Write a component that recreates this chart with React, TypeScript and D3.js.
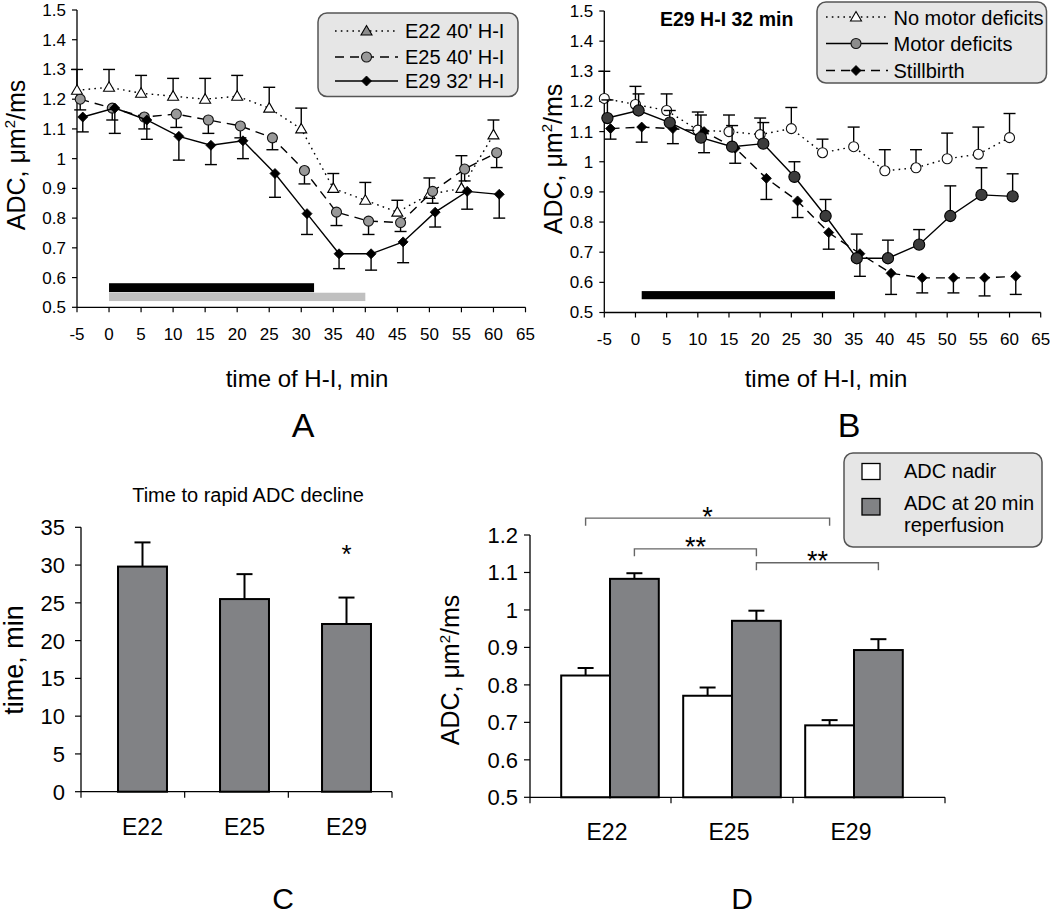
import React from 'react';
import * as d3 from 'd3';

// ---------- DATA ----------
const timePoints = [-5, 0, 5, 10, 15, 20, 25, 30, 35, 40, 45, 50, 55, 60];
const xTicks = [-5, 0, 5, 10, 15, 20, 25, 30, 35, 40, 45, 50, 55, 60, 65];
const adcTicks = [0.5, 0.6, 0.7, 0.8, 0.9, 1.0, 1.1, 1.2, 1.3, 1.4, 1.5];

// Panel A
const e22Adc = [1.23, 1.24, 1.22, 1.21, 1.2, 1.21, 1.17, 1.1, 0.9, 0.86, 0.82, 0.88, 0.9, 1.08];
const e22Err = [0.07, 0.06, 0.06, 0.06, 0.07, 0.07, 0.07, 0.07, 0.05, 0.06, 0.04, 0.055, 0.11, 0.05];
const e25Adc = [1.2, 1.17, 1.14, 1.15, 1.13, 1.11, 1.07, 0.96, 0.82, 0.79, 0.785, 0.89, 0.965, 1.02];
const e25Err = [0.036, 0.04, 0.04, 0.045, 0.045, 0.04, 0.04, 0.045, 0.045, 0.045, 0.03, 0.04, 0.04, 0.05];
const e29Adc = [1.14, 1.17, 1.13, 1.075, 1.045, 1.06, 0.95, 0.815, 0.68, 0.68, 0.72, 0.82, 0.89, 0.88];
const e29Err = [0.05, 0.085, 0.065, 0.08, 0.065, 0.06, 0.08, 0.07, 0.05, 0.055, 0.07, 0.05, 0.06, 0.08];
const legendA = ["E22 40' H-I", "E25 40' H-I", "E29 32' H-I"];
const hiStartA = [0, 0];
const hiEndA = [32, 40];

// Panel B
const noMotorAdc = [1.21, 1.19, 1.17, 1.105, 1.1, 1.09, 1.11, 1.03, 1.05, 0.97, 0.98, 1.01, 1.025, 1.08];
const noMotorErr = [0.09, 0.06, 0.055, 0.06, 0.055, 0.055, 0.07, 0.045, 0.065, 0.07, 0.06, 0.085, 0.09, 0.08];
const motorAdc = [1.145, 1.17, 1.13, 1.08, 1.05, 1.06, 0.95, 0.82, 0.68, 0.68, 0.725, 0.82, 0.89, 0.885];
const motorErr = [0.06, 0.055, 0.04, 0.075, 0.07, 0.07, 0.05, 0.055, 0.08, 0.06, 0.05, 0.1, 0.09, 0.075];
const stillAdc = [1.11, 1.115, 1.11, 1.1, 1.045, 0.945, 0.87, 0.765, 0.695, 0.63, 0.615, 0.615, 0.615, 0.62];
const stillErr = [0.035, 0.05, 0.05, 0.07, 0.05, 0.07, 0.055, 0.055, 0.075, 0.07, 0.05, 0.05, 0.06, 0.06];
const legendB = ['No motor deficits', 'Motor deficits', 'Stillbirth'];
const titleB = 'E29 H-I 32 min';
const hiStartB = [1];
const hiEndB = [32];

// Panel C
const ages = ['E22', 'E25', 'E29'];
const declineTime = [29.8, 25.5, 22.2];
const declineErr = [3.2, 3.3, 3.5];
const timeTicks = [0, 5, 10, 15, 20, 25, 30, 35];

// Panel D
const nadirAdc = [0.825, 0.771, 0.692];
const nadirErr = [0.02, 0.022, 0.014];
const reperfAdc = [1.083, 0.971, 0.893];
const reperfErr = [0.015, 0.027, 0.029];
const dTicks = [0.5, 0.6, 0.7, 0.8, 0.9, 1.0, 1.1, 1.2];
const legendD = ['ADC nadir', 'ADC at 20 min', 'reperfusion'];
const sigFrom = [['E22', 'nadir'], ['E22', 'reperf'], ['E25', 'reperf']];
const sigTo = [['E29', 'nadir'], ['E25', 'reperf'], ['E29', 'reperf']];
const sigLevel = [1.245, 1.163, 1.126];
const sigLabel = ['*', '**', '**'];

// ---------- STYLE ----------
const FONT = '"Liberation Sans", Arial, Helvetica, sans-serif';
const BAR_GRAY = '#818285';
const fmt = (v: number) => String(Math.round(v * 10) / 10);

function Marker({ type, cx, cy, fill }: { type: string; cx: number; cy: number; fill: string }) {
  if (type === 'tri') {
    return <path d={`M${cx},${cy - 5.5}L${cx + 5.5},${cy + 4}L${cx - 5.5},${cy + 4}Z`} fill={fill} stroke="#000" strokeWidth={1.1} />;
  }
  if (type === 'circ') {
    return <circle cx={cx} cy={cy} r={5} fill={fill} stroke="#111" strokeWidth={1.1} />;
  }
  if (type === 'bigcirc') {
    return <circle cx={cx} cy={cy} r={5.6} fill={fill} stroke="#000" strokeWidth={1.1} />;
  }
  return <path d={`M${cx},${cy - 5}L${cx + 5},${cy}L${cx},${cy + 5}L${cx - 5},${cy}Z`} fill={fill} stroke="#000" strokeWidth={0.8} />;
}

function Series({ xs, ys, errs, dir, x, y, dash, marker, fill }: any) {
  const line = d3
    .line<number>()
    .x((_, i) => x(xs[i]))
    .y((d) => y(d));
  return (
    <g>
      {ys.map((v: number, i: number) => {
        const px = x(xs[i]);
        const e = y(v + dir * errs[i]);
        return (
          <g key={'e' + i} stroke="#000" strokeWidth={1.4}>
            <line x1={px} x2={px} y1={y(v)} y2={e} />
            <line x1={px - 6} x2={px + 6} y1={e} y2={e} />
          </g>
        );
      })}
      <path d={line(ys) || ''} fill="none" stroke="#000" strokeWidth={1.4} strokeDasharray={dash} />
      {ys.map((v: number, i: number) => (
        <Marker key={'m' + i} type={marker} cx={x(xs[i])} cy={y(v)} fill={fill} />
      ))}
    </g>
  );
}

function TimeAxes({ x, y, tickSize }: { x: any; y: any; tickSize: number }) {
  const [x0, x1] = x.range();
  const [y0, y1] = y.range();
  return (
    <g fontFamily={FONT} fontSize={tickSize} fill="#000">
      <line x1={x0} x2={x0} y1={y0} y2={y1} stroke="#000" strokeWidth={1.3} />
      <line x1={x0} x2={x1} y1={y0} y2={y0} stroke="#000" strokeWidth={1.3} />
      {adcTicks.map((t) => (
        <g key={'y' + t}>
          <line x1={x0 - 5} x2={x0} y1={y(t)} y2={y(t)} stroke="#000" strokeWidth={1.2} />
          <text x={x0 - 11} y={y(t)} dy="0.35em" textAnchor="end">
            {fmt(t)}
          </text>
        </g>
      ))}
      {xTicks.map((t) => (
        <g key={'x' + t}>
          <line x1={x(t)} x2={x(t)} y1={y0} y2={y0 + 5} stroke="#000" strokeWidth={1.2} />
          <text x={x(t)} y={y0 + 32.5} textAnchor="middle">
            {String(t)}
          </text>
        </g>
      ))}
    </g>
  );
}

function AdcLabel({ x, y, size }: { x: number; y: number; size: number }) {
  return (
    <text transform={`translate(${x},${y}) rotate(-90)`} textAnchor="middle" fontFamily={FONT} fontSize={size}>
      <tspan>ADC, μm</tspan>
      <tspan fontSize={size * 0.6} dy={-size * 0.38}>
        2
      </tspan>
      <tspan dy={size * 0.38}>/ms</tspan>
    </text>
  );
}

function LegendBox({ x0, y0, x1, y1 }: { x0: number; y0: number; x1: number; y1: number }) {
  return <rect x={x0} y={y0} width={x1 - x0} height={y1 - y0} rx={9} ry={9} fill="#e6e6e6" stroke="#555" strokeWidth={1.5} />;
}

function PanelA() {
  const x = d3.scaleLinear().domain([-5, 65]).range([77, 525.5]);
  const y = d3.scaleLinear().domain([0.5, 1.5]).range([307.3, 10]);
  const xs22 = timePoints;
  const xs25 = timePoints.map((t) => t + 0.5);
  const xs29 = timePoints.map((t) => t + 0.9);
  const barLo = [0.551, 0.521];
  const barHi = [0.581, 0.549];
  const barCol = ['#000', '#c0c0c0'];
  const legY = [31, 57, 81];
  const styles = [
    { dash: '1.6,4.2', marker: 'tri', fill: '#8c8c8c' },
    { dash: '9,6', marker: 'circ', fill: '#999' },
    { dash: undefined, marker: 'diam', fill: '#000' },
  ];
  return (
    <g>
      {hiStartA.map((s, i) => (
        <rect key={i} x={x(s)} width={x(hiEndA[i]) - x(s)} y={y(barHi[i])} height={y(barLo[i]) - y(barHi[i])} fill={barCol[i]} />
      ))}
      <TimeAxes x={x} y={y} tickSize={17} />
      <Series xs={xs22} ys={e22Adc} errs={e22Err} dir={1} x={x} y={y} dash="1.6,4.2" marker="tri" fill="#fff" />
      <Series xs={xs25} ys={e25Adc} errs={e25Err} dir={-1} x={x} y={y} dash="9,6" marker="circ" fill="#999" />
      <Series xs={xs29} ys={e29Adc} errs={e29Err} dir={-1} x={x} y={y} marker="diam" fill="#000" />
      <LegendBox x0={318} y0={13} x1={518} y1={96.5} />
      {legendA.map((l, i) => (
        <g key={l}>
          <line x1={335} x2={398} y1={legY[i]} y2={legY[i]} stroke="#000" strokeWidth={1.4} strokeDasharray={styles[i].dash} />
          <Marker type={styles[i].marker} cx={366.5} cy={legY[i]} fill={styles[i].fill} />
          <text x={405} y={legY[i] + 6.5} fontFamily={FONT} fontSize={20}>
            {l}
          </text>
        </g>
      ))}
      <AdcLabel x={24.5} y={155} size={25} />
      <text x={307} y={387} textAnchor="middle" fontFamily={FONT} fontSize={24}>
        time of H-I, min
      </text>
      <text x={303} y={437} textAnchor="middle" fontFamily={FONT} fontSize={34}>
        A
      </text>
    </g>
  );
}

function PanelB() {
  const x = d3.scaleLinear().domain([-5, 65]).range([604.3, 1040.7]);
  const y = d3.scaleLinear().domain([0.5, 1.5]).range([312.5, 11]);
  const xsN = timePoints;
  const xsM = timePoints.map((t) => t + 0.5);
  const xsS = timePoints.map((t) => t + 1);
  const legY = [17, 43.5, 70.5];
  const styles = [
    { dash: '1.6,4.2', marker: 'tri', fill: '#fff' },
    { dash: undefined, marker: 'circ', fill: '#8c8c8c' },
    { dash: '9,6', marker: 'diam', fill: '#000' },
  ];
  return (
    <g>
      {hiStartB.map((s, i) => (
        <rect key={i} x={x(s)} width={x(hiEndB[i]) - x(s)} y={y(0.571)} height={y(0.544) - y(0.571)} fill="#000" />
      ))}
      <TimeAxes x={x} y={y} tickSize={17} />
      <Series xs={xsN} ys={noMotorAdc} errs={noMotorErr} dir={1} x={x} y={y} dash="1.6,4.2" marker="circ" fill="#fff" />
      <Series xs={xsS} ys={stillAdc} errs={stillErr} dir={-1} x={x} y={y} dash="9,6" marker="diam" fill="#000" />
      <Series xs={xsM} ys={motorAdc} errs={motorErr} dir={1} x={x} y={y} marker="bigcirc" fill="#3c3c3c" />
      <text x={660} y={26} fontFamily={FONT} fontSize={19.5} fontWeight="bold">
        {titleB}
      </text>
      <LegendBox x0={817} y0={2} x1={1046.5} y1={83} />
      {legendB.map((l, i) => (
        <g key={l}>
          <line x1={826} x2={888} y1={legY[i]} y2={legY[i]} stroke="#000" strokeWidth={1.4} strokeDasharray={styles[i].dash} />
          <Marker type={styles[i].marker} cx={856} cy={legY[i]} fill={styles[i].fill} />
          <text x={893.5} y={legY[i] + 7.5} fontFamily={FONT} fontSize={20}>
            {l}
          </text>
        </g>
      ))}
      <AdcLabel x={561.5} y={159} size={25} />
      <text x={826} y={387} textAnchor="middle" fontFamily={FONT} fontSize={24}>
        time of H-I, min
      </text>
      <text x={849} y={437} textAnchor="middle" fontFamily={FONT} fontSize={34}>
        B
      </text>
    </g>
  );
}

function PanelC() {
  const y = d3.scaleLinear().domain([0, 35]).range([791.7, 527.3]);
  const x = d3.scaleBand<string>().domain(ages).range([97, 392]).paddingInner(0.52).paddingOuter(0.206);
  const ax0 = 81;
  const ax1 = 392;
  const bw = x.bandwidth();
  return (
    <g fontFamily={FONT}>
      <text x={248} y={501.5} textAnchor="middle" fontSize={20}>
        Time to rapid ADC decline
      </text>
      {ages.map((a, i) => {
        const cx = (x(a) as number) + bw / 2;
        const top = y(declineErr[i] + declineTime[i]);
        return (
          <g key={a}>
            <rect x={x(a)} y={y(declineTime[i])} width={bw} height={y(0) - y(declineTime[i])} fill={BAR_GRAY} stroke="#000" strokeWidth={2} />
            <line x1={cx} x2={cx} y1={y(declineTime[i])} y2={top} stroke="#000" strokeWidth={2} />
            <line x1={cx - 8} x2={cx + 8} y1={top} y2={top} stroke="#000" strokeWidth={2} />
            <text x={cx} y={835} textAnchor="middle" fontSize={23}>
              {a}
            </text>
          </g>
        );
      })}
      <line x1={ax0} x2={ax0} y1={y(0)} y2={y(35)} stroke="#000" strokeWidth={1.3} />
      <line x1={ax0} x2={ax1} y1={y(0)} y2={y(0)} stroke="#000" strokeWidth={1.3} />
      {timeTicks.map((t) => (
        <g key={t}>
          <line x1={ax0 - 6} x2={ax0} y1={y(t)} y2={y(t)} stroke="#000" strokeWidth={1.2} />
          <text x={65} y={y(t)} dy="0.36em" textAnchor="end" fontSize={22}>
            {String(t)}
          </text>
        </g>
      ))}
      {[0, 1, 2, 3].map((k) => {
        const tx = ax0 + (k * (ax1 - ax0)) / ages.length;
        return <line key={k} x1={tx} x2={tx} y1={y(0)} y2={y(0) + 6} stroke="#000" strokeWidth={1.2} />;
      })}
      <text x={(x('E29') as number) + bw / 2} y={y(30.3)} textAnchor="middle" fontSize={26}>
        *
      </text>
      <text transform={`translate(22.5,660) rotate(-90)`} textAnchor="middle" fontSize={27}>
        time, min
      </text>
      <text x={283} y={909} textAnchor="middle" fontSize={30}>
        C
      </text>
    </g>
  );
}

function PanelD() {
  const y = d3.scaleLinear().domain([0.5, 1.2]).range([797.3, 535]);
  const x = d3.scaleBand<string>().domain(ages).range([549, 915]).paddingInner(0.2).paddingOuter(0.1);
  const sub = d3.scaleBand<string>().domain(['nadir', 'reperf']).range([0, x.bandwidth()]);
  const sw = sub.bandwidth();
  const ax0 = 530;
  const ax1 = 945;
  const step = x.step();
  const cen = (p: string[]) => (x(p[0]) as number) + (sub(p[1]) as number) + sw / 2;
  const series = [
    { key: 'nadir', vals: nadirAdc, errs: nadirErr, fill: '#fff' },
    { key: 'reperf', vals: reperfAdc, errs: reperfErr, fill: BAR_GRAY },
  ];
  const tickXs = [ax0, (x('E25') as number) - (step * 0.2) / 2, (x('E29') as number) - (step * 0.2) / 2, ax1];
  return (
    <g fontFamily={FONT}>
      {ages.map((a, i) =>
        series.map((s) => {
          const bx = (x(a) as number) + (sub(s.key) as number);
          const cx = bx + sw / 2;
          const top = y(s.vals[i] + s.errs[i]);
          return (
            <g key={a + s.key}>
              <line x1={cx} x2={cx} y1={y(s.vals[i])} y2={top} stroke="#000" strokeWidth={2} />
              <line x1={cx - 8} x2={cx + 8} y1={top} y2={top} stroke="#000" strokeWidth={2} />
              <rect x={bx} y={y(s.vals[i])} width={sw} height={y(0.5) - y(s.vals[i])} fill={s.fill} stroke="#000" strokeWidth={2} />
            </g>
          );
        })
      )}
      {ages.map((a) => (
        <text key={a} x={(x(a) as number) + x.bandwidth() / 2 - 3} y={840} textAnchor="middle" fontSize={23}>
          {a}
        </text>
      ))}
      <line x1={ax0} x2={ax0} y1={y(0.5)} y2={y(1.2)} stroke="#000" strokeWidth={1.3} />
      <line x1={ax0} x2={ax1} y1={y(0.5)} y2={y(0.5)} stroke="#000" strokeWidth={1.3} />
      {dTicks.map((t) => (
        <g key={t}>
          <line x1={ax0 - 6} x2={ax0} y1={y(t)} y2={y(t)} stroke="#000" strokeWidth={1.2} />
          <text x={518} y={y(t)} dy="0.36em" textAnchor="end" fontSize={22}>
            {fmt(t)}
          </text>
        </g>
      ))}
      {tickXs.map((tx, k) => (
        <line key={k} x1={tx} x2={tx} y1={y(0.5)} y2={y(0.5) + 6} stroke="#000" strokeWidth={1.2} />
      ))}
      {sigLabel.map((lab, i) => {
        const xa = cen(sigFrom[i]);
        const xb = cen(sigTo[i]);
        const ly = y(sigLevel[i]);
        return (
          <g key={i}>
            <path d={`M${xa},${ly + 7.5}V${ly}H${xb}V${ly + 7.5}`} fill="none" stroke="#666" strokeWidth={1.4} />
            <text x={(xa + xb) / 2} y={ly + 7.5} textAnchor="middle" fontSize={27}>
              {lab}
            </text>
          </g>
        );
      })}
      <LegendBox x0={844} y0={453} x1={1042} y1={547} />
      <rect x={862} y={463.5} width={18} height={16} fill="#fff" stroke="#000" strokeWidth={1.3} />
      <rect x={862} y={498.5} width={18} height={16.5} fill={BAR_GRAY} stroke="#000" strokeWidth={1.3} />
      <text x={904} y={478} fontSize={20}>
        {legendD[0]}
      </text>
      <text x={904} y={510} fontSize={20}>
        {legendD[1]}
      </text>
      <text x={904} y={532} fontSize={20}>
        {legendD[2]}
      </text>
      <AdcLabel x={459} y={670} size={25} />
      <text x={742} y={909} textAnchor="middle" fontSize={30}>
        D
      </text>
    </g>
  );
}

export default function App() {
  return (
    <svg
      width={1050}
      height={917}
      viewBox="0 0 1050 917"
      style={{ position: 'absolute', left: 0, top: 0, background: '#fff' }}
    >
      <rect x={0} y={0} width={1050} height={917} fill="#fff" />
      <PanelA />
      <PanelB />
      <PanelC />
      <PanelD />
    </svg>
  );
}
